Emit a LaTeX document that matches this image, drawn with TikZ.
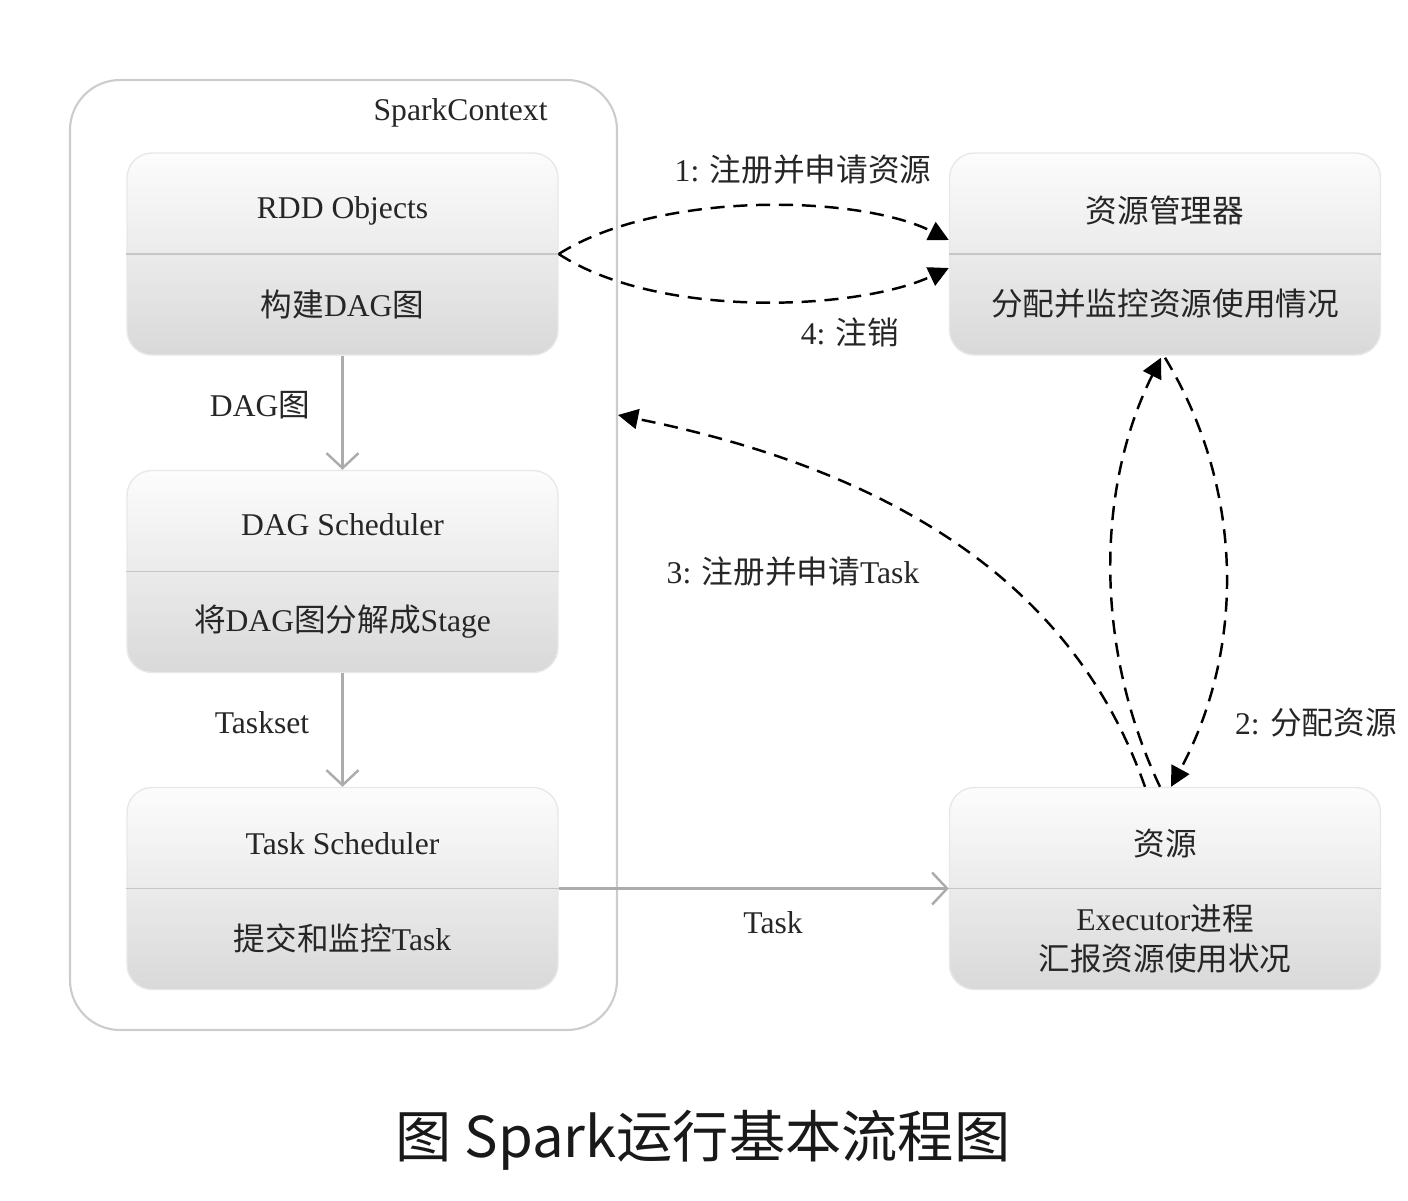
\documentclass[tikz,border=0pt]{standalone}
\usepackage{fontspec}
\setmainfont{Liberation Serif}
\newfontfamily\zh[Scale=1.0]{Noto Sans CJK SC}
\newfontfamily\capfont{Noto Sans CJK SC}
\usetikzlibrary{calc,arrows.meta}
\tikzset{
  stagebox/.style={rectangle, rounded corners=0.25cm, minimum width=4.31cm, minimum height=2.02cm,
    top color=gray!2, bottom color=gray!30, draw=gray!18, inner sep=0pt},
  boxtext/.style={text=black!85, font=\fontsize{9}{11}\selectfont},
  flowlabel/.style={text=black!85, font=\fontsize{9}{11}\selectfont},
  divider/.style={draw=gray!45, line width=0.5pt},
  solidflow/.style={draw=gray!65, line width=0.7pt, -{Straight Barb[length=1.5mm,width=3.2mm]}},
  dashflow/.style={draw=black, line width=0.7pt, dash pattern=on 4pt off 2.5pt, -{Triangle[length=2mm,width=2mm]}},
}

\begin{document}
\begin{tikzpicture}
			%%%%% START %%%%%
			\useasboundingbox (0, 0) rectangle (14.08, -12);
			
			\node[draw=gray!40, line width=0.6pt, rounded corners=0.5cm, minimum width=5.47cm, minimum height=9.5cm] (ctx) at (3.435, -5.55) {};
			\node[boxtext, anchor=east] (ctxT) at (5.6, -1.13) {SparkContext};
			
			\node[stagebox] (rdd) at (3.425, -2.54) {};
			\draw[divider] (rdd.west) -- (rdd.east);
			\node[boxtext] (rddT) at (3.425, -2.11) {RDD Objects};
			\node[boxtext] (rddB) at (3.425, -3.04) {{\zh 构建}DAG{\zh 图}};
			
			\node[stagebox] (dag) at (3.425, -5.715) {};
			\draw[divider] (dag.west) -- (dag.east);
			\node[boxtext] (dagT) at (3.425, -5.25) {DAG Scheduler};
			\node[boxtext] (dagB) at (3.425, -6.22) {{\zh 将}DAG{\zh 图分解成}Stage};
			
			\node[stagebox] (task) at (3.425, -8.885) {};
			\draw[divider] (task.west) -- (task.east);
			\node[boxtext] (taskT) at (3.425, -8.44) {Task Scheduler};
			\node[boxtext] (taskB) at (3.425, -9.38) {{\zh 提交和监控}Task};
			
			\node[stagebox] (rm) at (11.65, -2.54) {};
			\draw[divider] (rm.west) -- (rm.east);
			\node[boxtext] (rmT) at (11.65, -2.10) {\zh 资源管理器};
			\node[boxtext] (rmB) at (11.65, -3.04) {\zh 分配并监控资源使用情况};
			
			\node[stagebox] (res) at (11.65, -8.885) {};
			\draw[divider] (res.west) -- (res.east);
			\node[boxtext] (resT) at (11.65, -8.44) {\zh 资源};
			\node[boxtext, align=center, font=\fontsize{9}{11.5}\selectfont] (resB) at (11.65, -9.39) {Executor{\zh 进程}\\{\zh 汇报资源使用状况}};
			
			\draw[solidflow] (rdd.south) -- (dag.north);
			\node[flowlabel] (l1) at (2.60, -4.05) {DAG{\zh 图}};
			\draw[solidflow] (dag.south) -- (task.north);
			\node[flowlabel] (l2) at (2.62, -7.23) {Taskset};
			\draw[solidflow] (task.east) -- (res.west);
			\node[flowlabel] (l3) at (7.73, -9.23) {Task};
			
			\draw[dashflow] (rdd.east) .. controls (6.6, -1.9) and (8.6, -1.95) .. ($(rm.west)+(0, 0.14)$);
			\node[flowlabel] (l4) at (8.03, -1.70) {1: {\zh 注册并申请资源}};
			\draw[dashflow] (rdd.east) .. controls (6.6, -3.2) and (8.6, -3.1) .. ($(rm.west)+(0, -0.14)$);
			\node[flowlabel] (l5) at (8.50, -3.32) {4: {\zh 注销}};
			
			\draw[dashflow] ($(res.north)+(-0.05, 0)$) .. controls (10.95, -6.5) and (10.95, -4.9) .. ($(rm.south)+(-0.04, -0.02)$);
			\draw[dashflow] ($(rm.south)+(0.0, -0.02)$) .. controls (12.45, -4.9) and (12.45, -6.5) .. ($(res.north)+(0.06, 0)$);
			\node[flowlabel] (l6) at (13.16, -7.23) {2: {\zh 分配资源}};
			
			\draw[dashflow] ($(res.north)+(-0.2, 0)$) .. controls (11.0, -6.6) and (9.9, -4.9) .. ($(ctx.east)+(0, 1.40)$);
			\node[flowlabel] (l7) at (7.93, -5.72) {3: {\zh 注册并申请}Task};
			
			\node[font=\fontsize{16}{19}\selectfont\capfont, text=black!90] (cap) at (7.03, -11.40) {图 Spark运行基本流程图};
			%%%%% END %%%%%
\end{tikzpicture}
\end{document}
